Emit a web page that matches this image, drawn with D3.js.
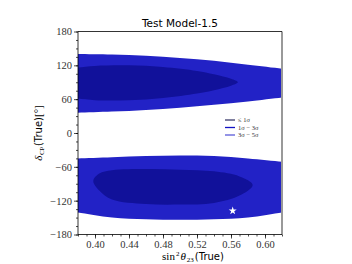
<!DOCTYPE html>
<html>
<head>
<meta charset="utf-8">
<script src="https://cdn.jsdelivr.net/npm/d3@7"></script>
<style>
  body { margin: 0; background: #fff; }
  text { font-family: "Liberation Serif", "DejaVu Serif", serif; }
</style>
</head>
<body>
<svg width="352" height="264"></svg>
<script>
// contour boundaries: x = sin^2 theta23, top/bottom = delta_CP (deg)
const upperOuterX = [0.37, 0.38, 0.42, 0.46, 0.50, 0.54, 0.58, 0.62, 0.63];
const upperOuterTop = [140, 140, 139, 137, 133, 128, 121, 114, 112];
const upperOuterBot = [36, 36, 38, 41, 45, 50, 56, 63, 65];

const upperInnerX = [0.37, 0.38, 0.40, 0.44, 0.48, 0.52, 0.54, 0.56, 0.568];
const upperInnerTop = [115, 116, 119, 120, 117, 110, 104, 96, 90];
const upperInnerBot = [62, 61, 58, 58, 62, 70, 76, 84, 90];

const lowerOuterX = [0.37, 0.38, 0.42, 0.46, 0.50, 0.54, 0.58, 0.62, 0.63];
const lowerOuterTop = [-45, -45, -43, -41, -40, -41, -45, -51, -53];
const lowerOuterBot = [-139, -141, -150, -153, -154, -153, -150, -141, -139];

const lowerInnerX = [0.398, 0.405, 0.42, 0.46, 0.50, 0.54, 0.57, 0.5855];
const lowerInnerTop = [-85, -72, -66, -64, -65, -68, -77, -92];
const lowerInnerBot = [-85, -102, -118, -126, -127, -124, -111, -92];

const bestFit = [0.562, -138];

const xTicks = [0.40, 0.44, 0.48, 0.52, 0.56, 0.60];
const yTicks = [-180, -120, -60, 0, 60, 120, 180];
const legendLabels = ["≤ 1σ", "1σ − 3σ", "3σ − 5σ"];
const legendColors = ["#3b3b6b", "#1212c4", "#5a5ad8"];

const svg = d3.select("svg");
const L = 78, R = 282, T = 31.5, B = 234.5;

let x = d3.scaleLinear().domain([0.38, 0.62]).range([L, R]);
let y = d3.scaleLinear().domain([-180, 180]).range([B, T]);

svg.append("clipPath").attr("id", "clip")
    .append("rect").attr("x", L).attr("y", T).attr("width", R - L).attr("height", B - T);

const plot = svg.append("g").attr("clip-path", "url(#clip)");

function ring(xs, top, bot) {
    let pts = xs.map((v, i) => [v, top[i]]);
    for (let i = xs.length - 1; i >= 0; i--) {
        if (top[i] !== bot[i]) pts.push([xs[i], bot[i]]);
    }
    return pts;
}

const closed = d3.line()
    .x(d => x(d[0])).y(d => y(d[1]))
    .curve(d3.curveCatmullRomClosed.alpha(0.5));

const shapes = [
    [upperOuterX, upperOuterTop, upperOuterBot, "#2222c6"],
    [lowerOuterX, lowerOuterTop, lowerOuterBot, "#2222c6"],
    [upperInnerX, upperInnerTop, upperInnerBot, "#11119a"],
    [lowerInnerX, lowerInnerTop, lowerInnerBot, "#11119a"]
];

plot.selectAll("path.region").data(shapes).enter()
    .append("path").attr("class", "region")
    .attr("d", d => closed(ring(d[0], d[1], d[2])))
    .attr("fill", d => d[3]);

// best fit star
plot.append("path")
    .attr("d", d3.symbol().type(d3.symbolStar).size(20))
    .attr("transform", "translate(" + x(bestFit[0]) + "," + y(bestFit[1]) + ")")
    .attr("fill", "#fff");

// frame
svg.append("line").attr("x1", R).attr("x2", R).attr("y1", T).attr("y2", B)
    .attr("stroke", "#999").attr("stroke-width", 2);
svg.append("path").attr("d", `M${R},${T}H${L}V${B}H${R}`)
    .attr("fill", "none").attr("stroke", "#000").attr("stroke-width", 0.8);

// axes
let bottomAxis = d3.axisBottom(x).tickValues(xTicks).tickFormat(d3.format(".2f")).tickSize(4).tickPadding(2);
let bottomMinor = d3.axisBottom(x).tickValues(d3.range(0.38, 0.6201, 0.01)).tickFormat("").tickSize(2);
let leftAxis = d3.axisLeft(y).tickValues(yTicks).tickFormat(d => d < 0 ? "−" + Math.abs(d) : d).tickSize(4).tickPadding(2);
let leftMinor = d3.axisLeft(y).tickValues(d3.range(-180, 181, 15)).tickFormat("").tickSize(2);

[[bottomMinor, `translate(0,${B})`], [bottomAxis, `translate(0,${B})`],
 [leftMinor, `translate(${L},0)`], [leftAxis, `translate(${L},0)`]].forEach(a => {
    let g = svg.append("g").attr("transform", a[1]).call(a[0]);
    g.select(".domain").remove();
    g.selectAll("line").attr("stroke-width", 0.7);
    g.selectAll("text").attr("font-size", 10.5).attr("font-family", "Liberation Serif, serif").attr("fill", "#333");
});

// title
svg.append("text").attr("x", (L + R) / 2).attr("y", 27)
    .attr("text-anchor", "middle").attr("font-size", 10.5)
    .style("font-family", "DejaVu Sans, sans-serif").text("Test Model-1.5");

// x label
let xl = svg.append("text").attr("x", 193).attr("y", 259.5).attr("text-anchor", "middle").attr("font-size", 11);
xl.append("tspan").text("sin");
xl.append("tspan").attr("font-size", 7).attr("dx", 1).attr("dy", -4).text("2");
xl.append("tspan").attr("dx", 1).attr("dy", 4).attr("font-style", "italic").text("θ");
xl.append("tspan").attr("font-size", 7).attr("dx", 1).attr("dy", 2).text("23");
xl.append("tspan").attr("dx", 1).attr("dy", -2).style("font-family", "DejaVu Sans, sans-serif").attr("font-size", 10).text("(True)");

// y label
let yl = svg.append("text").attr("transform", "translate(42,133) rotate(-90)").attr("text-anchor", "middle").attr("font-size", 11);
yl.append("tspan").attr("font-style", "italic").text("δ");
yl.append("tspan").attr("font-size", 7).attr("dx", 0.5).attr("dy", 2).text("CP");
yl.append("tspan").attr("dx", 0.5).attr("dy", -2).style("font-family", "DejaVu Sans, sans-serif").attr("font-size", 10).text("(True)");
yl.append("tspan").text("[°]");

// legend
let lg = svg.append("g").selectAll("g").data(legendLabels).enter().append("g")
    .attr("transform", (d, i) => "translate(225," + (120 + i * 7.5) + ")");
lg.append("line").attr("x1", 0).attr("x2", 10)
    .attr("stroke", (d, i) => legendColors[i]).attr("stroke-width", 1.3);
lg.append("text").attr("x", 13).attr("y", 2.3).attr("font-size", 6.5).attr("fill", "#333").text(d => d);
</script>
</body>
</html>
